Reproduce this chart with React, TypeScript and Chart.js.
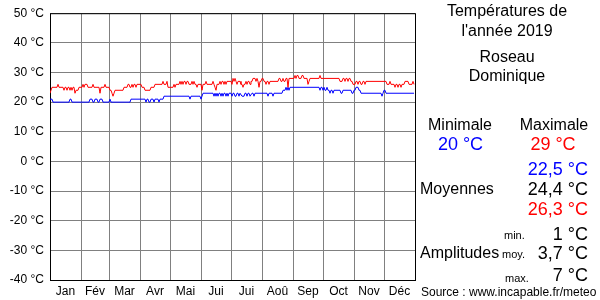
import React, { useEffect, useRef } from "react";
import { Chart, registerables } from "chart.js";

Chart.register(...registerables);

const FONT = '"Liberation Sans", Arial, sans-serif';
const RED = "#ff0000";
const BLUE = "#0000ff";
const BLACK = "#000000";
const GRID = "#808080";

// Month names & boundaries (day index)
const monthNames = ["Jan", "Fév", "Mar", "Avr", "Mai", "Jui", "Jui", "Aoû", "Sep", "Oct", "Nov", "Déc"];
const monthStarts = [0, 31, 59, 90, 120, 151, 181, 212, 243, 273, 304, 334, 365];
const yTickValues = [-40, -30, -20, -10, 0, 10, 20, 30, 40, 50];

// Daily maximum temperatures (°C), 2019
const maxJan = [23,24,25,25,25,25,25,25,26,25,25,25,25,25,24,25,25,24,25,25,24,25,24,25,25,23,24,24,24,25,25];
const maxFeb = [25,25,26,25,26,26,26,25,25,25,25,25,26,25,25,25,25,25,25,23,25,25,25,25,26,25,25,25];
const maxMar = [25,24,24,23,22,23,24,24,24,24,24,24,24,24,24,25,25,25,25,26,26,25,25,26,25,26,26,25,26,26,26];
const maxApr = [26,26,25,25,25,24,24,24,24,24,24,25,25,25,25,26,26,26,26,26,26,26,26,27,26,26,26,27,25,25];
const maxMay = [25,25,25,25,26,25,26,26,26,26,27,26,27,26,27,27,26,27,27,26,26,26,27,26,27,26,26,25,26,26,26];
const maxJun = [26,24,26,26,26,27,26,26,26,26,26,26,27,26,25,24,26,26,26,27,26,27,27,26,27,26,27,27,27,27];
const maxJul = [27,26,28,27,28,27,26,27,27,27,26,26,25,26,26,27,26,27,27,26,27,27,28,28,28,27,28,27,25,27,27];
const maxAug = [28,28,27,27,26,27,27,26,27,27,27,27,27,27,27,27,27,28,28,27,27,28,27,27,28,28,25,28,28,28,28];
const maxSep = [28,28,29,28,29,29,28,28,28,29,29,28,28,28,28,26,27,28,28,28,28,28,28,28,28,28,28,29,28,28];
const maxOct = [28,28,28,28,28,28,28,28,28,28,28,28,28,28,28,28,28,27,27,27,28,28,27,28,28,27,28,28,27,27,26];
const maxNov = [26,26,27,27,26,27,27,26,26,27,27,26,27,27,27,27,27,27,27,27,27,27,27,27,27,27,27,27,27,27];
const maxDec = [27,27,27,26,26,26,27,26,26,26,26,25,26,26,25,26,26,25,26,26,26,27,27,27,27,26,26,26,26,27,26];

// Daily minimum temperatures (°C), 2019
const minJan = [21,21,21,20,20,20,20,20,20,20,20,20,20,20,20,20,20,20,20,20,21,21,20,20,20,20,20,20,20,20,20];
const minFeb = [20,20,20,20,20,20,20,20,20,21,21,21,20,20,21,21,21,20,20,21,21,21,20,20,20,20,20,20];
const minMar = [20,21,20,20,20,20,20,20,20,20,20,20,20,20,20,20,20,20,20,20,20,20,21,21,21,21,21,21,21,21,21];
const minApr = [21,21,21,21,21,21,20,21,21,20,20,21,21,21,20,21,21,21,21,20,21,21,21,21,22,22,22,22,22,22];
const minMay = [22,22,22,22,22,22,22,22,22,22,22,22,22,22,22,22,22,22,22,22,21,22,22,22,22,22,22,22,22,22,22];
const minJun = [21,22,23,23,23,23,23,23,23,23,23,23,23,22,23,22,23,22,23,23,22,23,22,23,23,22,23,22,23,23];
const minJul = [23,22,23,23,22,22,23,23,22,23,23,22,22,22,23,23,22,23,23,22,22,23,23,22,23,23,23,23,23,23,23];
const minAug = [23,23,23,23,23,23,22,23,23,23,23,22,23,23,23,23,23,23,23,23,23,24,24,24,25,24,25,24,25,25,25];
const minSep = [25,25,25,25,25,25,25,25,25,25,25,25,25,25,25,25,25,25,25,25,25,25,25,25,25,25,25,24,25,25];
const minOct = [24,25,24,24,25,24,24,23,24,24,23,24,24,24,24,24,24,24,23,23,24,24,24,24,24,24,24,24,24,23,23];
const minNov = [24,24,25,25,25,24,24,23,23,23,23,23,23,23,23,23,23,23,23,23,23,23,23,23,23,23,23,23,22,23];
const minDec = [24,24,23,23,23,23,23,23,23,23,23,23,23,23,23,23,23,23,23,23,23,23,23,23,23,23,23,23,23,23,23];

// Panel texts / statistics
const titleLines = ["Températures de", "l'année 2019"];
const placeLines = ["Roseau", "Dominique"];
const statMin = "20 °C";
const statMax = "29 °C";
const meanValues = ["22,5 °C", "24,4 °C", "26,3 °C"];
const amplitudeLabels = ["min.", "moy.", "max."];
const amplitudeValues = ["1 °C", "3,7 °C", "7 °C"];
const sourceText = "Source : www.incapable.fr/meteo";

const maxSeries = [maxJan, maxFeb, maxMar, maxApr, maxMay, maxJun, maxJul, maxAug, maxSep, maxOct, maxNov, maxDec].flat();
const minSeries = [minJan, minFeb, minMar, minApr, minMay, minJun, minJul, minAug, minSep, minOct, minNov, minDec].flat();

type XTick = { value: number; label: string; boundary: boolean };
const xTicks: XTick[] = [];
for (let m = 0; m < 12; m++) {
  if (m > 0) xTicks.push({ value: monthStarts[m], label: "", boundary: true });
  xTicks.push({ value: (monthStarts[m] + monthStarts[m + 1]) / 2, label: monthNames[m], boundary: false });
}

const panelPlugin = {
  id: "panel",
  beforeDatasetsDraw(chart: any) {
    const { ctx, chartArea: a } = chart;
    ctx.save();
    ctx.strokeStyle = BLACK;
    ctx.lineWidth = 1;
    ctx.strokeRect(a.left + 0.5, a.top + 0.5, a.right - a.left, a.bottom - a.top);
    ctx.restore();
  },
  afterDraw(chart: any) {
    const ctx = chart.ctx;
    ctx.save();
    const t = (s: string, x: number, y: number, size: number, color: string, align: string, base = "middle") => {
      ctx.font = `${size}px ${FONT}`;
      ctx.fillStyle = color;
      ctx.textAlign = align;
      ctx.textBaseline = base;
      ctx.fillText(s, x, y);
    };
    t(titleLines[0], 507, 12, 16, BLACK, "center");
    t(titleLines[1], 507, 32, 16, BLACK, "center");
    t(placeLines[0], 507, 58, 16, BLACK, "center");
    t(placeLines[1], 507, 77, 16, BLACK, "center");

    t("Minimale", 460, 126, 16, BLACK, "center");
    t("Maximale", 554, 126, 16, BLACK, "center");
    t(statMin, 460.5, 145, 18, BLUE, "center");
    t(statMax, 553, 145, 18, RED, "center");

    t(meanValues[0], 588, 170, 18, BLUE, "right");
    t(meanValues[1], 588, 190, 18, BLACK, "right");
    t(meanValues[2], 588, 210, 18, RED, "right");
    t("Moyennes", 420, 190, 16, BLACK, "left");

    t(amplitudeValues[0], 588, 240, 18, BLACK, "right", "alphabetic");
    t(amplitudeValues[1], 588, 259, 18, BLACK, "right", "alphabetic");
    t(amplitudeValues[2], 588, 280.5, 18, BLACK, "right", "alphabetic");
    t(amplitudeLabels[0], 504, 239, 11, BLACK, "left", "alphabetic");
    t(amplitudeLabels[1], 502, 258, 11, BLACK, "left", "alphabetic");
    t(amplitudeLabels[2], 505, 281.5, 11, BLACK, "left", "alphabetic");
    t("Amplitudes", 420, 254, 16, BLACK, "left");

    t(sourceText, 421, 293, 12, BLACK, "left");
    ctx.restore();
  },
};

export default function App() {
  const ref = useRef<HTMLCanvasElement | null>(null);

  useEffect(() => {
    document.body.style.margin = "0";
    if (!ref.current) return;
    const chart = new Chart(ref.current, {
      type: "line",
      data: {
        datasets: [
          {
            label: "Max",
            data: maxSeries.map((v, i) => ({ x: i, y: v })),
            borderColor: RED,
            borderWidth: 1,
            pointRadius: 0,
            tension: 0,
            fill: false,
          },
          {
            label: "Min",
            data: minSeries.map((v, i) => ({ x: i, y: v })),
            borderColor: BLUE,
            borderWidth: 1,
            pointRadius: 0,
            tension: 0,
            fill: false,
          },
        ],
      },
      options: {
        animation: false,
        responsive: false,
        devicePixelRatio: 1,
        layout: { padding: { top: 10, right: 185, left: 0, bottom: 0 } },
        plugins: { legend: { display: false }, tooltip: { enabled: false } },
        scales: {
          x: {
            type: "linear",
            min: 0,
            max: 365,
            afterBuildTicks: (s: any) => {
              s.ticks = xTicks.map((t) => ({ value: t.value }));
            },
            afterFit: (s: any) => {
              s.height = 20;
            },
            ticks: {
              autoSkip: false,
              maxRotation: 0,
              minRotation: 0,
              padding: 4,
              color: BLACK,
              font: { family: FONT, size: 12 },
              callback: (_v: any, i: number) => xTicks[i]?.label ?? "",
            },
            grid: {
              drawTicks: false,
              lineWidth: 1,
              color: (c: any) => {
                const tk = xTicks.find((t) => t.value === c.tick?.value);
                return tk && tk.boundary ? GRID : "rgba(0,0,0,0)";
              },
            },
            border: { display: false },
          },
          y: {
            min: -40,
            max: 50,
            afterBuildTicks: (s: any) => {
              s.ticks = yTickValues.map((v) => ({ value: v }));
            },
            afterFit: (s: any) => {
              s.width = 50;
            },
            ticks: {
              padding: 6,
              color: BLACK,
              font: { family: FONT, size: 12 },
              callback: (v: any) => `${v} °C`,
            },
            grid: { drawTicks: false, color: GRID, lineWidth: 1 },
            border: { display: false },
          },
        },
      },
      plugins: [panelPlugin],
    } as any);
    return () => chart.destroy();
  }, []);

  return <canvas ref={ref} width={600} height={300} style={{ display: "block" }} />;
}
